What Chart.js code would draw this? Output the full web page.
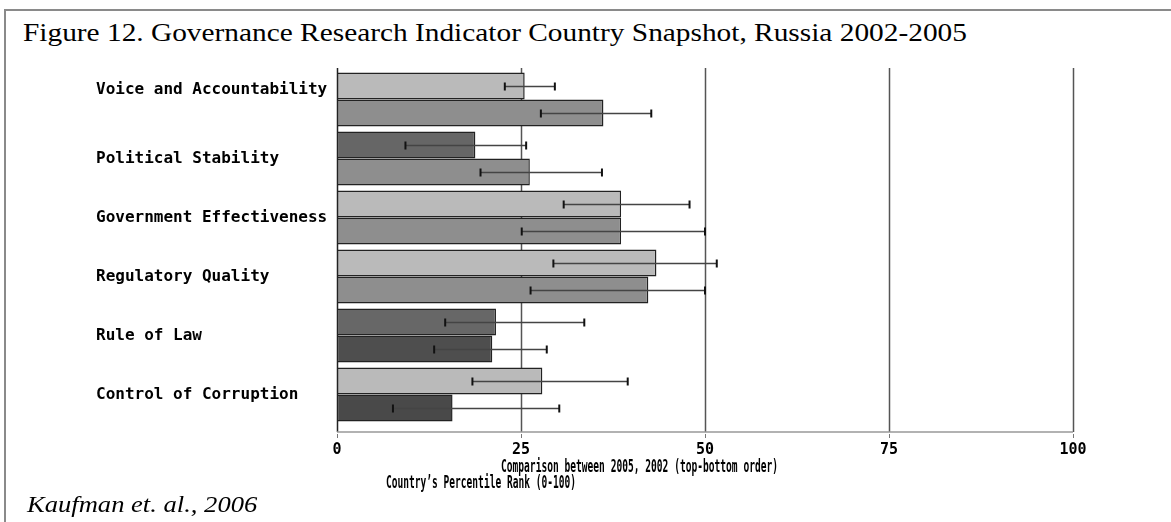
<!DOCTYPE html>
<html>
<head>
<meta charset="utf-8">
<title>Governance Research Indicator Country Snapshot, Russia 2002-2005</title>
<script src="https://cdn.jsdelivr.net/npm/chart.js@4.4.0/dist/chart.umd.min.js"></script>
<style>
  html, body { margin: 0; padding: 0; background: #fff; }
  #wrap { position: relative; width: 1171px; height: 522px; overflow: hidden; }
  #frame { position: absolute; left: 4px; top: 9px; width: 1200px; height: 600px;
           border-left: 2px solid #8a8a8a; border-top: 2px solid #8a8a8a; }
  #title { position: absolute; left: 23px; top: 19px; font: 25px "Liberation Serif", serif;
           color: #000; white-space: nowrap; transform-origin: 0 0; transform: scaleX(1.174); }
  #source { position: absolute; left: 27px; top: 492px; font: italic 23px "Liberation Serif", serif;
            color: #000; white-space: nowrap; transform-origin: 0 0; transform: scaleX(1.155); }
  #chart { position: absolute; left: 0; top: 0; }
</style>
</head>
<body>
<div id="wrap">
  <div id="frame"></div>
  <div id="title">Figure 12. Governance Research Indicator Country Snapshot, Russia 2002-2005</div>
  <canvas id="chart" width="1171" height="522"></canvas>
  <div id="source">Kaufman et. al., 2006</div>
</div>
<script>
const indicators = [
  "Voice and Accountability",
  "Political Stability",
  "Government Effectiveness",
  "Regulatory Quality",
  "Rule of Law",
  "Control of Corruption",
];
// percentile rank, 2005 (top bar) and 2002 (bottom bar)
const rank2005 = [25.5, 18.8, 38.6, 43.4, 21.6, 27.9];
const rank2002 = [36.2, 26.2, 38.6, 42.3, 21.1, 15.7];
// confidence ranges
const low2005 = [22.8, 9.3, 30.8, 29.4, 14.7, 18.4];
const high2005 = [29.6, 25.7, 47.9, 51.6, 33.6, 39.5];
const low2002 = [27.7, 19.5, 25.1, 26.3, 13.2, 7.6];
const high2002 = [42.7, 36.0, 50.0, 50.0, 28.5, 30.2];
const xTicks = [0, 25, 50, 75, 100];

const colors2005 = ["#bababa", "#666666", "#bababa", "#bababa", "#676767", "#bababa"];
const colors2002 = ["#8e8e8e", "#8e8e8e", "#8e8e8e", "#8e8e8e", "#4e4e4e", "#494949"];

const monoBold = '"DejaVu Sans Mono", monospace';

const ranges = [
  { low: low2005, high: high2005 },
  { low: low2002, high: high2002 },
];

const frameLines = {
  id: "frameLines",
  beforeDatasetsDraw(chart) {
    const { ctx, chartArea, scales } = chart;
    const x = scales.x;
    const top = chartArea.top - 2;
    const bottom = chartArea.bottom + 8;
    ctx.save();
    xTicks.forEach((v) => {
      const px = Math.round(x.getPixelForValue(v)) + 0.5;
      ctx.strokeStyle = v === 0 ? "#222" : "#555";
      ctx.lineWidth = 1.5;
      ctx.beginPath();
      ctx.moveTo(px, top);
      ctx.lineTo(px, bottom);
      ctx.stroke();
      // small tick below the axis
      ctx.strokeStyle = "#777";
      ctx.lineWidth = 1;
      ctx.beginPath();
      ctx.moveTo(px, bottom + 2);
      ctx.lineTo(px, bottom + 6);
      ctx.stroke();
    });
    ctx.strokeStyle = "#999";
    ctx.lineWidth = 1.5;
    ctx.beginPath();
    ctx.moveTo(x.getPixelForValue(0), bottom);
    ctx.lineTo(x.getPixelForValue(100), bottom);
    ctx.stroke();
    ctx.restore();
  },
};

const errorBars = {
  id: "errorBars",
  afterDatasetsDraw(chart) {
    const { ctx, scales } = chart;
    const x = scales.x;
    ctx.save();
    ranges.forEach((r, di) => {
      const meta = chart.getDatasetMeta(di);
      meta.data.forEach((bar, i) => {
        const y = Math.round(bar.y) + 0.5;
        const x1 = x.getPixelForValue(r.low[i]);
        const x2 = x.getPixelForValue(r.high[i]);
        ctx.strokeStyle = "#444";
        ctx.lineWidth = 1.3;
        ctx.beginPath();
        ctx.moveTo(x1, y);
        ctx.lineTo(x2, y);
        ctx.stroke();
        ctx.strokeStyle = "#111";
        ctx.lineWidth = 2;
        [x1, x2].forEach((px) => {
          ctx.beginPath();
          ctx.moveTo(px, y - 4);
          ctx.lineTo(px, y + 4);
          ctx.stroke();
        });
      });
    });
    ctx.restore();
  },
  afterDraw(chart) {
    const { ctx, chartArea } = chart;
    ctx.save();
    ctx.fillStyle = "#000";
    ctx.font = "bold 18px " + monoBold;
    ctx.textBaseline = "middle";
    ctx.textAlign = "left";
    ctx.fillText("Comparison between 2005, 2002 (top-bottom order)", 501, chartArea.bottom + 43, 277);
    ctx.fillText("Country\u2019s Percentile Rank (0-100)", 386, chartArea.bottom + 59, 190);
    ctx.restore();
  },
};

new Chart(document.getElementById("chart"), {
  type: "bar",
  data: {
    labels: indicators,
    datasets: [
      {
        label: "2005",
        data: rank2005,
        backgroundColor: colors2005,
        borderColor: "#222",
        borderWidth: 1.5,
        borderSkipped: false,
        categoryPercentage: 0.915,
        barPercentage: 1,
      },
      {
        label: "2002",
        data: rank2002,
        backgroundColor: colors2002,
        borderColor: "#222",
        borderWidth: 1.5,
        borderSkipped: false,
        categoryPercentage: 0.915,
        barPercentage: 1,
      },
    ],
  },
  options: {
    indexAxis: "y",
    responsive: false,
    animation: false,
    layout: { padding: { left: 96, right: 98, top: 70, bottom: 58 } },
    plugins: {
      legend: { display: false },
      title: { display: false },
    },
    scales: {
      x: {
        min: 0,
        max: 100,
        afterBuildTicks: (scale) => {
          scale.ticks = xTicks.map((v) => ({ value: v }));
        },
        afterFit: (scale) => {
          scale.height = 40;
        },
        grid: { display: false },
        border: { display: false },
        ticks: {
          color: "#000",
          padding: 9,
          maxRotation: 0,
          font: { family: monoBold, size: 15, weight: "bold" },
        },
      },
      y: {
        afterFit: (scale) => {
          scale.width = 241;
        },
        grid: { display: false },
        border: { display: false },
        ticks: {
          color: "#000",
          crossAlign: "far",
          font: { family: monoBold, size: 16, weight: "bold" },
          // the first label sits a little higher in the original
          callback: (v, i) => (i === 0 ? [indicators[i], ""] : indicators[i]),
        },
      },
    },
  },
  plugins: [frameLines, errorBars],
});
</script>
</body>
</html>
